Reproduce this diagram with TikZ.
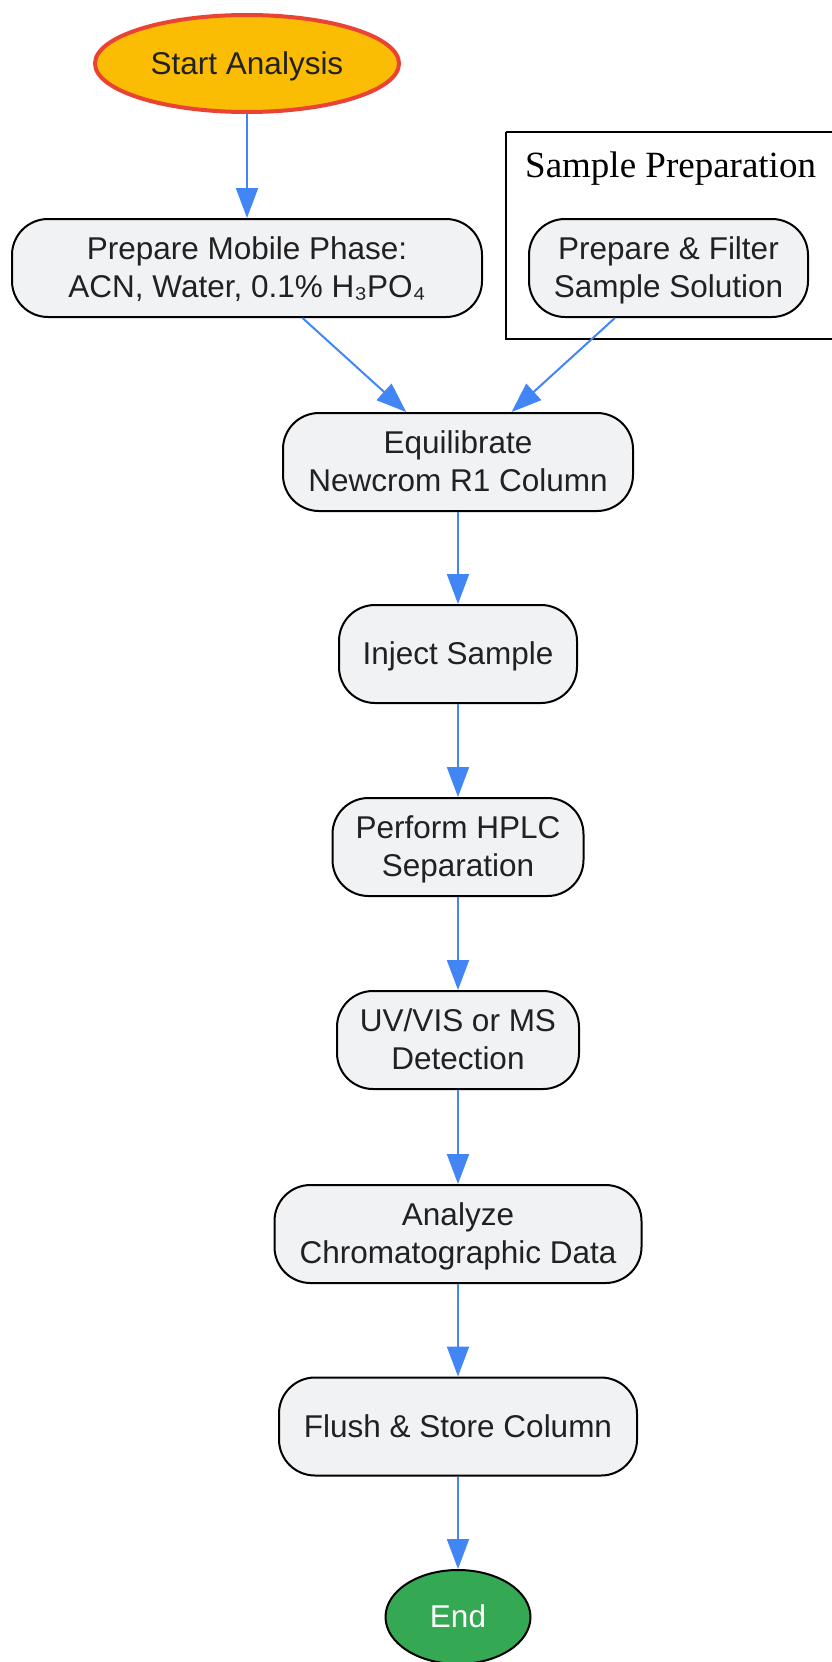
\documentclass[tikz,border=0pt]{standalone}
\usepackage{fontspec}
\setmainfont{Liberation Sans}
\newfontfamily\serifface{Liberation Serif}
\usetikzlibrary{arrows.meta,shapes.geometric}
\definecolor{boxfill}{HTML}{F1F2F4}
\definecolor{txt}{HTML}{212121}
\definecolor{arrowblue}{HTML}{4285F4}
\definecolor{startfill}{HTML}{FBBC04}
\definecolor{startedge}{HTML}{EA4335}
\definecolor{endfill}{HTML}{34A853}
\newcommand\nodetext[1]{\raisebox{-3pt}[\height][\depth]{\begin{tabular}{@{}c@{}}#1\end{tabular}}}
\tikzset{
  stepbox/.style={draw=black, line width=2pt, fill=boxfill, rounded corners=36pt,
    minimum height=98pt, text=txt, inner sep=0pt,
    font=\fontsize{31.5}{38}\selectfont},
  flow/.style={draw=arrowblue, line width=2pt, -{Triangle[length=30pt,width=22pt]}},
}
\begin{document}
\begin{tikzpicture}[x=1pt,y=-1pt]
\useasboundingbox (0,0) rectangle (831,1662);
% cluster
\draw[line width=2pt] (506,132) -- (840,132) (506,132) -- (506,339) -- (840,339);
\node[font=\serifface\fontsize{37}{44}\selectfont, anchor=base west, inner sep=0pt] (clab) at (525,177) {Sample Preparation};
% nodes
\node[ellipse, draw=startedge, line width=4pt, fill=startfill, minimum width=304pt, minimum height=97pt,
  inner sep=0pt, text=txt, font=\fontsize{31.5}{38}\selectfont] (start) at (247,63.5) {\nodetext{Start Analysis}};
\node[stepbox, minimum width=470pt] (mob) at (247,268) {\nodetext{Prepare Mobile Phase:\\ACN, Water, 0.1\% H₃PO₄}};
\node[stepbox, minimum width=279pt] (filt) at (668.5,268) {\nodetext{Prepare \& Filter\\Sample Solution}};
\node[stepbox, minimum width=350pt] (equi) at (458,462) {\nodetext{Equilibrate\\Newcrom R1 Column}};
\node[stepbox, minimum width=238pt] (inj) at (458,654) {\nodetext{Inject Sample}};
\node[stepbox, minimum width=251pt] (hplc) at (458,847) {\nodetext{Perform HPLC\\Separation}};
\node[stepbox, minimum width=242pt] (det) at (458,1040) {\nodetext{UV/VIS or MS\\Detection}};
\node[stepbox, minimum width=367pt] (ana) at (458,1234) {\nodetext{Analyze\\Chromatographic Data}};
\node[stepbox, minimum width=358pt] (flush) at (458,1426.5) {\nodetext{Flush \& Store Column}};
\node[ellipse, draw=black, line width=2pt, fill=endfill, minimum width=145pt, minimum height=94pt,
  inner sep=0pt, text=white, font=\fontsize{31.5}{38}\selectfont] (endn) at (458,1617) {\nodetext{End}};
% connectors
\draw[flow] (start) -- (mob);
\draw[flow] (mob.-42.8) -- (equi.136.6);
\draw[flow] (filt.-137) -- (equi.43.9);
\draw[flow] (equi) -- (inj);
\draw[flow] (inj) -- (hplc);
\draw[flow] (hplc) -- (det);
\draw[flow] (det) -- (ana);
\draw[flow] (ana) -- (flush);
\draw[flow] (flush) -- (endn);
\end{tikzpicture}
\end{document}
